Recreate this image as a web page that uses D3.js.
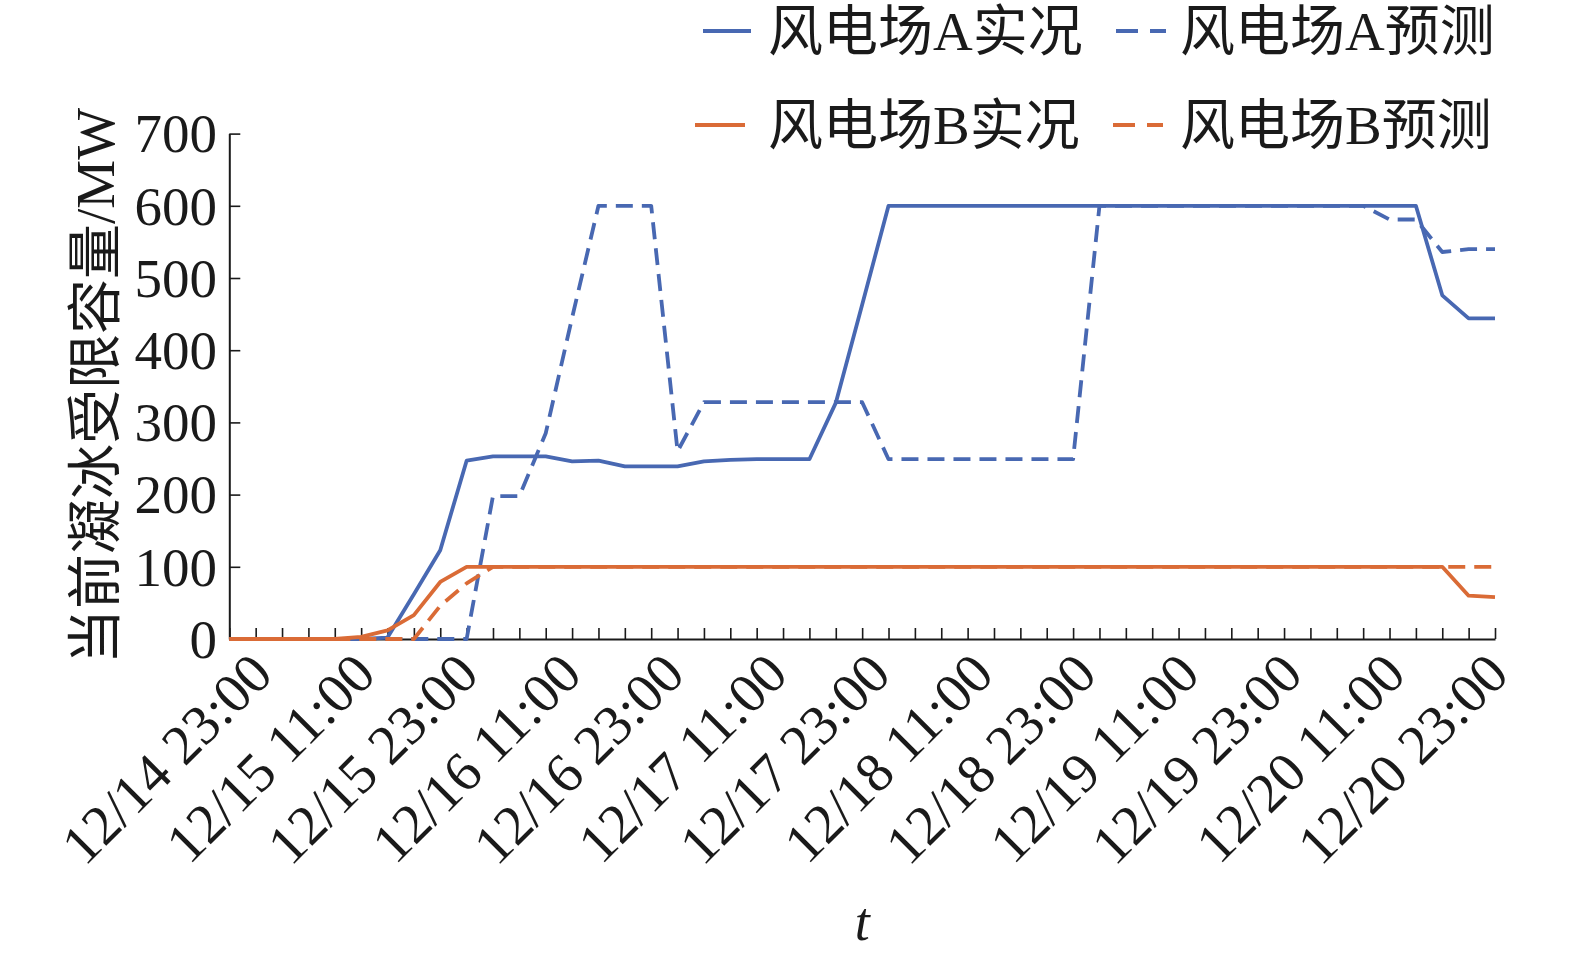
<!DOCTYPE html>
<html>
<head>
<meta charset="utf-8">
<script src="https://cdn.jsdelivr.net/npm/d3@7"></script>
<style>
  html, body { margin: 0; padding: 0; background: #fff; }
  svg { display: block; }
  text { fill: #1a1a1a; }
</style>
</head>
<body>
<svg id="chart" width="1575" height="958"></svg>
<script>
// ---- data (3-hour steps from 12/14 23:00 to 12/20 23:00) ----
const stepIndex = d3.range(49);
const tickLabels = ["12/14 23:00","12/15 11:00","12/15 23:00","12/16 11:00","12/16 23:00",
  "12/17 11:00","12/17 23:00","12/18 11:00","12/18 23:00","12/19 11:00","12/19 23:00",
  "12/20 11:00","12/20 23:00"];
const yTicks = [0,100,200,300,400,500,600,700];

const aActual = [0,0,0,0,0,0,2,62,123,247,253,253,253,246,247,239,239,239,246,248,249,249,249,327,463,
  600,600,600,600,600,600,600,600,600,600,600,600,600,600,600,600,600,600,600,600,600,476,444,444];
const aForecast = [0,0,0,0,0,0,0,0,0,0,198,198,285,445,600,600,600,260,328,328,328,328,328,328,328,
  249,249,249,249,249,249,249,249,600,600,600,600,600,600,600,600,600,600,600,581,581,536,540,540];
const bActual = [0,0,0,0,0,3,12,33,79,100,100,100,100,100,100,100,100,100,100,100,100,100,100,100,100,
  100,100,100,100,100,100,100,100,100,100,100,100,100,100,100,100,100,100,100,100,100,100,60,58];
const bForecast = [0,0,0,0,0,0,0,0,46,77,100,100,100,100,100,100,100,100,100,100,100,100,100,100,100,
  100,100,100,100,100,100,100,100,100,100,100,100,100,100,100,100,100,100,100,100,100,100,100,100];

const seriesNames = ["风电场A实况","风电场A预测","风电场B实况","风电场B预测"];
const blue = "#4868b2", orange = "#da6b36";

(function () {
// ---- layout ----
const svg = d3.select("#chart");
const pLeft = 229.3, pRight = 1495, pTop = 133.6, pBottom = 639;
const x = d3.scaleLinear().domain([0, 48]).range([pLeft, pRight]);
const y = d3.scaleLinear().domain([0, 700]).range([pBottom, pTop]);
const xLabel = d3.scaleLinear().domain([0, 48]).range([275, 1511]);

const serif = "'Liberation Serif','Noto Sans CJK SC',serif";

const axisG = svg.append("g");
// y axis
const yAxis = d3.axisLeft(y).tickValues(yTicks).tickSizeInner(-11).tickSizeOuter(0).tickFormat("");
const yg = axisG.append("g").attr("transform", `translate(${pLeft},0)`).call(yAxis);
yg.select(".domain").attr("stroke", "#1a1a1a").attr("stroke-width", 2);
yg.selectAll(".tick line").attr("stroke", "#1a1a1a").attr("stroke-width", 1.6);
axisG.selectAll(".ylab").data(yTicks).join("text")
  .attr("x", 217).attr("y", d => y(d)).attr("dy", "0.34em")
  .attr("text-anchor", "end")
  .style("font-family", serif).style("font-size", "55px")
  .text(d => d);

// x axis
const xAxis = d3.axisBottom(x).tickValues(stepIndex).tickSizeInner(-11).tickSizeOuter(0).tickFormat("");
const xg = axisG.append("g").attr("transform", `translate(0,${pBottom})`).call(xAxis);
xg.select(".domain").attr("stroke", "#1a1a1a").attr("stroke-width", 2);
xg.selectAll(".tick line").attr("stroke", "#1a1a1a").attr("stroke-width", 1.6);
axisG.selectAll(".xlab").data(tickLabels).join("text")
  .attr("transform", (d, i) => `translate(${xLabel(i * 4)},${pBottom + 38}) rotate(-45)`)
  .attr("text-anchor", "end")
  .style("font-family", serif).style("font-size", "56px")
  .text(d => d);

// axis titles
svg.append("text")
  .attr("transform", `translate(95,386) rotate(-90)`)
  .attr("text-anchor", "middle").attr("dominant-baseline", "central")
  .style("font-family", serif).style("font-size", "55px")
  .text("当前凝冰受限容量/MW");
svg.append("text")
  .attr("x", (pLeft + pRight) / 2).attr("y", 940)
  .attr("text-anchor", "middle")
  .style("font-family", serif).style("font-size", "54px").style("font-style", "italic")
  .text("t");

// lines
const line = d3.line().x((d, i) => x(i)).y(d => y(d));
const series = [
  {v: aForecast, c: blue, dash: "17,9"},
  {v: aActual, c: blue, dash: null},
  {v: bForecast, c: orange, dash: "17,9"},
  {v: bActual, c: orange, dash: null}
];
svg.append("g").selectAll("path").data(series).join("path")
  .attr("d", d => line(d.v))
  .attr("fill", "none")
  .attr("stroke", d => d.c)
  .attr("stroke-width", 3.8)
  .attr("stroke-linejoin", "round")
  .attr("stroke-dasharray", d => d.dash);

// legend
const legendItems = [
  {name: seriesNames[0], c: blue, dash: null, x1: 703, x2: 751, tx: 768, y: 31},
  {name: seriesNames[1], c: blue, dash: "22,12", x1: 1116, x2: 1166, tx: 1180, y: 31},
  {name: seriesNames[2], c: orange, dash: null, x1: 695, x2: 745, tx: 768, y: 125},
  {name: seriesNames[3], c: orange, dash: "22,12", x1: 1113, x2: 1163, tx: 1180, y: 125}
];
const lg = svg.append("g").selectAll("g").data(legendItems).join("g");
lg.append("line")
  .attr("x1", d => d.x1).attr("x2", d => d.x2)
  .attr("y1", d => d.y).attr("y2", d => d.y)
  .attr("stroke", d => d.c).attr("stroke-width", 4)
  .attr("stroke-dasharray", d => d.dash);
lg.append("text")
  .attr("x", d => d.tx).attr("y", d => d.y)
  .attr("dominant-baseline", "central")
  .style("font-family", serif).style("font-size", "55px")
  .text(d => d.name);
})();
</script>
</body>
</html>
